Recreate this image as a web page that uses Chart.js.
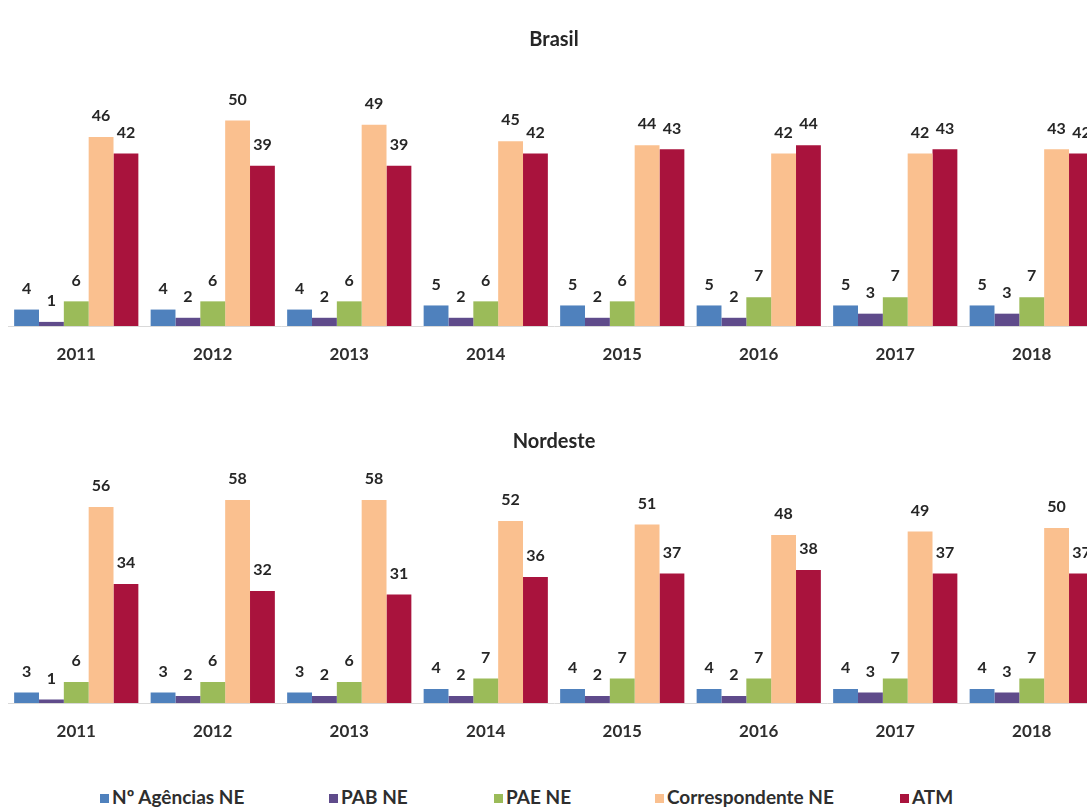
<!DOCTYPE html>
<html>
<head>
<meta charset="utf-8">
<script src="https://cdn.jsdelivr.net/npm/chart.js@4.4.1/dist/chart.umd.min.js"></script>
<style>
  html, body { margin: 0; padding: 0; background: #ffffff; overflow: hidden; }
  #page { position: relative; width: 1087px; height: 812px; overflow: hidden; background: #fff; }
  .panel { position: absolute; left: 0; }
  #legend { position: absolute; left: 0; top: 784px; width: 1087px; height: 26px;
            font-family: Lato, "Open Sans", sans-serif; font-size: 19px; font-weight: bold; color: #2e2e2e; }
  .item { position: absolute; top: 0; white-space: nowrap; line-height: 26px; }
  .swatch { display: inline-block; width: 9px; height: 9px; margin-right: 3px; vertical-align: 1px; }
</style>
</head>
<body>
<div id="page">
  <div class="panel" id="p1" style="top:0px"><canvas id="brasil" width="1100" height="372"></canvas></div>
  <div class="panel" id="p2" style="top:380px"><canvas id="nordeste" width="1100" height="369"></canvas></div>
  <div id="legend"></div>
</div>
<script>
// Years on the category axis
const categories = ['2011', '2012', '2013', '2014', '2015', '2016', '2017', '2018'];
const seriesNames = ['Nº Agências NE', 'PAB NE', 'PAE NE', 'Correspondente NE', 'ATM'];

// Brasil
const brasilAgencias = [4, 4, 4, 5, 5, 5, 5, 5];
const brasilPab      = [1, 2, 2, 2, 2, 2, 3, 3];
const brasilPae      = [6, 6, 6, 6, 6, 7, 7, 7];
const brasilCorresp  = [46, 50, 49, 45, 44, 42, 42, 43];
const brasilAtm      = [42, 39, 39, 42, 43, 44, 43, 42];

// Nordeste
const neAgencias = [3, 3, 3, 4, 4, 4, 4, 4];
const nePab      = [1, 2, 2, 2, 2, 2, 3, 3];
const nePae      = [6, 6, 6, 7, 7, 7, 7, 7];
const neCorresp  = [56, 58, 58, 52, 51, 48, 49, 50];
const neAtm      = [34, 32, 31, 36, 37, 38, 37, 37];

// Styling
const seriesColors = ['#4f81bd', '#5f4b8b', '#9bbb59', '#fac08f', '#a9133d'];
const legendLeft = [100, 329, 494, 655, 900];
const FONT = 'Lato, "Open Sans", sans-serif';
const TEXT = '#262626';

// Draws each bar's value above it
const valueLabels = {
  id: 'valueLabels',
  afterDatasetsDraw(chart) {
    const ctx = chart.ctx;
    ctx.save();
    ctx.font = 'bold 16px ' + FONT;
    ctx.fillStyle = TEXT;
    ctx.textAlign = 'center';
    ctx.textBaseline = 'middle';
    chart.data.datasets.forEach((ds, i) => {
      const meta = chart.getDatasetMeta(i);
      meta.data.forEach((bar, j) => {
        ctx.fillText(String(ds.data[j]), bar.x, bar.y - 21);
      });
    });
    ctx.restore();
  }
};

function makeChart(id, title, seriesData, yMax, titlePad) {
  return new Chart(document.getElementById(id), {
    type: 'bar',
    data: {
      labels: categories,
      datasets: seriesData.map((d, i) => ({
        label: seriesNames[i],
        data: d,
        backgroundColor: seriesColors[i],
        borderWidth: 0,
        categoryPercentage: 0.91,
        barPercentage: 1.0
      }))
    },
    options: {
      responsive: false,
      animation: false,
      devicePixelRatio: 1,
      layout: { padding: { left: 8, right: 0, top: 0, bottom: 0 } },
      plugins: {
        legend: { display: false },
        tooltip: { enabled: false },
        title: {
          display: true,
          text: title,
          color: TEXT,
          font: { family: FONT, size: 20, weight: 'bold' },
          padding: titlePad
        }
      },
      scales: {
        x: {
          grid: { display: false, drawTicks: false },
          border: { display: true, color: '#d9d9d9', width: 1 },
          ticks: { color: '#2e2e2e', font: { family: FONT, size: 17, weight: 'bold' }, padding: 18 },
          afterFit(scale) { scale.height = 46; }
        },
        y: { display: false, min: 0, max: yMax }
      }
    },
    plugins: [valueLabels]
  });
}

makeChart('brasil', 'Brasil',
  [brasilAgencias, brasilPab, brasilPae, brasilCorresp, brasilAtm], 55.5, { top: 28, bottom: 46 });
makeChart('nordeste', 'Nordeste',
  [neAgencias, nePab, nePae, neCorresp, neAtm], 65, { top: 50, bottom: 21.5 });

// Legend row
const legend = document.getElementById('legend');
seriesNames.forEach((name, i) => {
  const item = document.createElement('div');
  item.className = 'item';
  item.style.left = legendLeft[i] + 'px';
  const sw = document.createElement('span');
  sw.className = 'swatch';
  sw.style.background = seriesColors[i];
  item.appendChild(sw);
  item.appendChild(document.createTextNode(name));
  legend.appendChild(item);
});
</script>
</body>
</html>
